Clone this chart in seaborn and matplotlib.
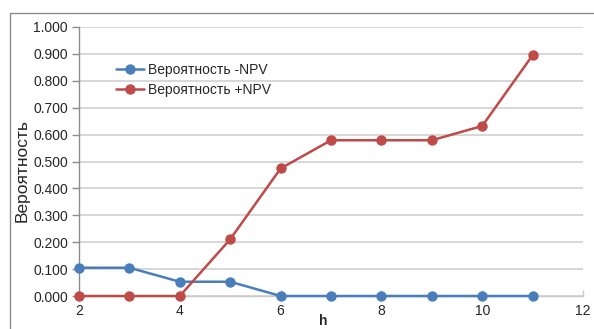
import matplotlib
matplotlib.use("Agg")
import matplotlib.pyplot as plt
from matplotlib.patches import Rectangle
import numpy as np
import pandas as pd
import seaborn as sns

# Horizon values and probability of negative / positive NPV
h_values = [2, 3, 4, 5, 6, 7, 8, 9, 10, 11]
prob_neg_npv = [0.105, 0.105, 0.053, 0.053, 0.0, 0.0, 0.0, 0.0, 0.0, 0.0]
prob_pos_npv = [0.0, 0.0, 0.0, 0.211, 0.474, 0.579, 0.579, 0.579, 0.632, 0.895]
series_names = ["Вероятность -NPV", "Вероятность +NPV"]
y_ticks = [0.0, 0.1, 0.2, 0.3, 0.4, 0.5, 0.6, 0.7, 0.8, 0.9, 1.0]
x_ticks = [2, 4, 6, 8, 10, 12]

df = pd.DataFrame({
    "h": h_values * 2,
    "p": prob_neg_npv + prob_pos_npv,
    "series": [series_names[0]] * len(h_values) + [series_names[1]] * len(h_values),
})

sns.set_theme(style="white")
plt.rcParams["font.family"] = ["Liberation Sans", "DejaVu Sans"]

W, H = 594, 329
fig = plt.figure(figsize=(W / 100, H / 100), dpi=100)
ax = fig.add_axes([79 / W, 1 - 296 / H, (583 - 79) / W, (296 - 27) / H])

palette = {series_names[0]: "#4A7EBB", series_names[1]: "#BE4B48"}
sns.lineplot(data=df, x="h", y="p", hue="series", palette=palette, ax=ax,
             marker="o", markersize=7.5, markeredgewidth=0, linewidth=1.8,
             legend=True)
for line in ax.lines:
    line.set_clip_on(False)
    line.set_zorder(3)

ax.set_xlim(2, 12)
ax.set_ylim(0, 1)
ax.set_xticks(x_ticks)
ax.set_yticks(y_ticks)
ax.set_yticklabels([f"{v:.3f}" for v in y_ticks])
ax.grid(axis="y", color="#D4D4D4", linewidth=1.3)
ax.grid(axis="x", visible=False)
ax.set_axisbelow(True)

for side in ("top", "right"):
    ax.spines[side].set_visible(False)
ax.spines["left"].set_color("#8C8C8C")
ax.spines["left"].set_linewidth(1.0)
ax.spines["bottom"].set_color("#C8C8C8")
ax.spines["bottom"].set_linewidth(1.0)

ax.tick_params(axis="y", direction="out", length=5, width=1, color="#8C8C8C",
               labelsize=10, labelcolor="#262626", pad=3, left=True)
ax.tick_params(axis="x", direction="in", length=4, width=1, color="#C8C8C8",
               labelsize=10, labelcolor="#262626", pad=6, bottom=True)

ax.set_xlabel("h", fontsize=10, fontweight="bold", color="#262626")
ax.xaxis.set_label_coords((323 - 79) / 504, (296 - 314) / 269)
ax.set_ylabel("Вероятность", fontsize=12.5, color="#262626")
ax.yaxis.label.set_verticalalignment("center")
ax.yaxis.label.set_horizontalalignment("center")
ax.yaxis.set_label_coords((22 - 79) / 504, (296 - 170) / 269)

leg = ax.legend(loc="center left", bbox_to_anchor=((116 - 79) / 504, (296 - 80) / 269),
                frameon=False, fontsize=10, handlelength=2.0, handletextpad=0.3,
                labelspacing=0.45, borderpad=0, borderaxespad=0)
for t in leg.get_texts():
    t.set_color("#262626")

# Chart area border
fig.patches.append(Rectangle((10 / W, -0.1), 1.0, (H - 13) / H + 0.1,
                             transform=fig.transFigure, fill=False,
                             edgecolor="#8C8C8C", linewidth=1.0))

fig.savefig("out.png", dpi=100)
